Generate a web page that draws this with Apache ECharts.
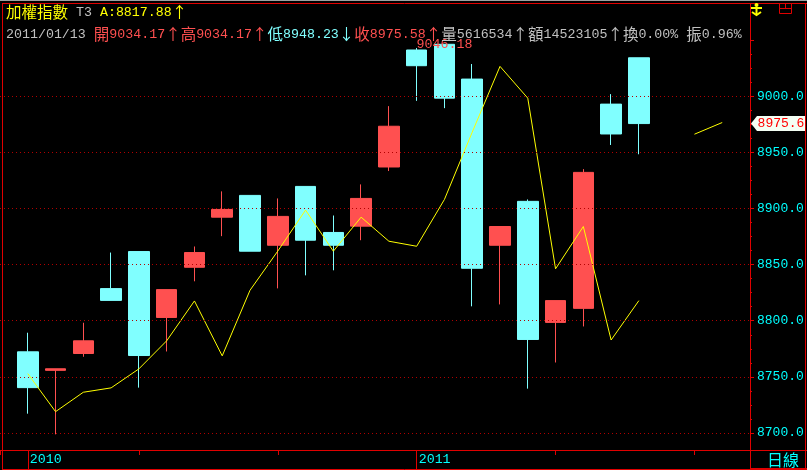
<!DOCTYPE html>
<html><head><meta charset="utf-8">
<script src="https://cdn.jsdelivr.net/npm/echarts@6/dist/echarts.min.js"></script>
<style>html,body{margin:0;padding:0;background:#000}#c{width:807px;height:470px}</style>
</head><body><div id="c"></div>
<script>
// ---- data ----
const dates = ['2010/12/13',
  '2010/12/14','2010/12/15','2010/12/16','2010/12/17','2010/12/20','2010/12/21','2010/12/22',
  '2010/12/23','2010/12/24','2010/12/27','2010/12/28','2010/12/29','2010/12/30','2010/12/31',
  '2011/01/03','2011/01/04','2011/01/05','2011/01/06','2011/01/07','2011/01/10','2011/01/11',
  '2011/01/12','2011/01/13',
  '2011/01/14','2011/01/17','2011/01/18','2011/01/19'];
const opens  = [8772.3,8755.8,8770.8,8828.6,8861.6,8802.9,8847.6,8892.2,8911.6,8867.2,8919.6,8878.6,8884.2,8936.9,9041.1,9046.18,9015.2,8867.2,8906.3,8798.5,8811.0,8992.9,9034.17];
const closes = [8740.4,8757.2,8782.1,8818.1,8769.0,8827.7,8860.7,8899.1,8861.9,8892.9,8871.7,8867.2,8908.9,8973.2,9027.1,8998.2,8846.7,8883.9,8783.3,8817.9,8932.1,8966.3,8975.58];
const lows   = [8717.2,8698.8,8767.9,8818.1,8740.4,8772.6,8835.1,8875.3,8861.9,8828.8,8840.4,8844.9,8871.7,8933.3,8995.8,8989.3,8812.8,8814.5,8739.5,8762.8,8794.9,8956.5,8948.23];
const highs  = [8789.3,8757.2,8798.2,8860.7,8861.6,8827.7,8866.1,8915.2,8911.6,8908.9,8919.6,8893.7,8921.4,8991.1,9042.9,9046.18,9028.6,8883.9,8908.0,8817.9,8935.0,9001.8,9034.17];
const maA    = [8752.9,8719.0,8736.3,8740.2,8757.1,8782.1,8817.6,8768.7,8827.1,8862.0,8898.5,8861.9,8892.2,8870.8,8866.3,8908.0,8967.9,9026.5,8998.2,8846.2,8883.9,8782.8,8817.88,null,8966.1,8976.5];
const yTicks = [8700,8750,8800,8850,8900,8950,9000];
const lastClose = 8975.58, maxHigh = 9046.18;
const header1 = [['加權指數','y'],[' T3 ','g'],['A:8817.88↑','y']];
const header2 = [['2011/01/13 ','g'],['開9034.17↑高9034.17↑','r'],['低8948.23↓','c'],['收8975.58↑','r'],['量5616534↑額14523105↑換0.00% 振0.96%','g']];

// ---- styles ----
const RED = '#e00000', GRID = '#b00000';
const UP = '#ff5050', DOWN = '#80ffff', AXC = '#00ffff';
const MONO = "'Liberation Mono','DejaVu Sans Mono',monospace";
const CJK = "'Noto Sans CJK TC','Noto Sans CJK SC',sans-serif";
const COLS = {y:'#ffff00', g:'#c0c0c0', r:'#ff5050', c:'#80ffff'};

function richText(segs){
  let s='';
  segs.forEach(([t,col])=>{
    let run='', type=null;
    for(const ch of t){
      const tp = ch.charCodeAt(0) > 0x2000 ? 'c' : 'a';
      if(type!==null && tp!==type){ s += '{'+col+type+'|'+run+'}'; run=''; }
      type=tp; run+=ch;
    }
    if(run) s += '{'+col+type+'|'+run+'}';
  });
  return s;
}
const rich = {};
Object.keys(COLS).forEach(k=>{
  rich[k+'a'] = {fill:COLS[k], fontFamily:MONO, fontSize:13.3, lineHeight:18, verticalAlign:'middle'};
  rich[k+'c'] = {fill:COLS[k], fontFamily:CJK, fontSize:15.5, lineHeight:18, verticalAlign:'middle'};
});

const nReal = opens.length;
const candleData = dates.map((d,i)=>{
  const k=i-1;
  return (k>=0 && k<nReal) ? [opens[k],closes[k],lows[k],highs[k]] : ['-','-','-','-'];
});
const lineData = dates.map((d,i)=>{
  const k=i-1;
  return (k>=0 && k<maA.length && maA[k]!==null) ? maA[k] : '-';
});
const yearIdx = [];
for(let i=1;i<=nReal;i++){ if(i===1 || dates[i].slice(0,4)!==dates[i-1].slice(0,4)) yearIdx.push(i); }
const maxIdx = highs.indexOf(maxHigh)+1;

const chart = echarts.init(document.getElementById('c'), null, {renderer:'canvas'});
const L = (x1,y1,x2,y2,c,w)=>({type:'line', z:100, silent:true, shape:{x1,y1,x2,y2}, style:{stroke:c, lineWidth:w||1}});
chart.setOption({
  backgroundColor:'#000',
  animation:false,
  grid:{left:0, top:40, width:750, height:393},
  xAxis:[
    {type:'category', data:dates, boundaryGap:false, position:'bottom', offset:17,
     axisLine:{show:true, lineStyle:{color:RED}},
     axisTick:{show:true, interval:4, length:5, lineStyle:{color:RED}},
     axisLabel:{show:false}, splitLine:{show:false}},
    {type:'category', data:dates, boundaryGap:false, position:'bottom', offset:17,
     axisLine:{show:false},
     axisTick:{show:true, interval:(i)=>yearIdx.includes(i), length:19, lineStyle:{color:RED}},
     axisLabel:{show:true, interval:(i)=>yearIdx.includes(i), formatter:(v)=>v.slice(0,4),
       align:'left', margin:3, padding:[0,0,0,2], color:AXC, fontFamily:MONO, fontSize:13.3},
     splitLine:{show:false}}
  ],
  yAxis:{type:'value', position:'right', min:8700, max:9050, interval:50,
    axisLine:{show:false},
    axisTick:{show:true, length:4, lineStyle:{color:RED}},
    minorTick:{show:true, splitNumber:4, length:2, lineStyle:{color:RED}},
    axisLabel:{margin:7, color:AXC, fontFamily:MONO, fontSize:13, formatter:(v)=> v<=9000 ? v.toFixed(1) : ''},
    splitLine:{show:false}},
  series:[
    {type:'line', data:[], z:1, silent:true,
     markLine:{silent:true, symbol:['none','none'], label:{show:false},
       lineStyle:{color:GRID, type:[1,3], width:1},
       data: yTicks.map(v=>({yAxis:v}))}},
    {type:'candlestick', data:candleData, barWidth:21, clip:false, z:2,
     itemStyle:{color:UP, color0:DOWN, borderColor:UP, borderColor0:DOWN, borderWidth:1},
     markPoint:{silent:true, data:[
       {coord:[dates.length-1, lastClose], symbol:'path://M0,7.5L6,0L54,0L54,15L6,15Z',
        symbolSize:[54,15], symbolOffset:[28,0], itemStyle:{color:'#f4fff4'},
        label:{show:true, formatter:lastClose.toFixed(1), color:'#ff0000', position:'inside', offset:[3,0], fontFamily:MONO, fontSize:13}},
       {coord:[maxIdx, maxHigh], symbol:'circle', symbolSize:1, itemStyle:{color:'rgba(0,0,0,0)'},
        label:{show:true, formatter:maxHigh.toFixed(2), color:'#ff5050', position:'inside', fontFamily:MONO, fontSize:13.3}}
     ]}},
    {type:'line', data:lineData, symbol:'none', clip:false, z:3, connectNulls:false,
     lineStyle:{color:'#ffff00', width:1}}
  ],
  graphic:[
    {type:'rect', z:100, silent:true, shape:{x:0,y:0,width:807,height:1}, style:{fill:'#a0a0a0'}},
    L(2.5,3,2.5,470,RED), L(2,3.5,807,3.5,RED), L(805.5,3,805.5,470,RED),
    L(750.5,3,750.5,470,RED), L(2,450.5,807,450.5,RED), L(2,469.5,807,469.5,RED),
    L(751,468.5,807,468.5,RED),
    {type:'text', z:100, x:6, y:12, style:{text:richText(header1), rich, verticalAlign:'middle', fill:'#c0c0c0'}},
    {type:'text', z:100, x:6, y:34, style:{text:richText(header2), rich, verticalAlign:'middle', fill:'#c0c0c0'}},
    {type:'text', z:100, x:783, y:460, style:{text:'日線', fill:AXC, font:"16px 'Noto Sans CJK TC'", align:'center', verticalAlign:'middle'}},
    // yellow icon
    {type:'circle', z:100, shape:{cx:756.5, cy:5, r:2}, style:{fill:'#ffff00'}},
    {type:'rect', z:100, shape:{x:751, y:7, width:11, height:2}, style:{fill:'#ffff00'}},
    {type:'rect', z:100, shape:{x:755.5, y:7, width:2, height:7}, style:{fill:'#ffff00'}},
    {type:'polyline', z:100, shape:{points:[[752,12],[756.5,15],[761,12]]}, style:{stroke:'#ffff00', lineWidth:2, fill:null}},
    // window icon
    {type:'rect', z:100, shape:{x:779.5, y:3.5, width:12, height:10}, style:{stroke:RED, fill:null}},
    L(779.5,8.5,791.5,8.5,RED), L(785.5,3.5,785.5,8.5,RED)
  ]
});
</script></body></html>
